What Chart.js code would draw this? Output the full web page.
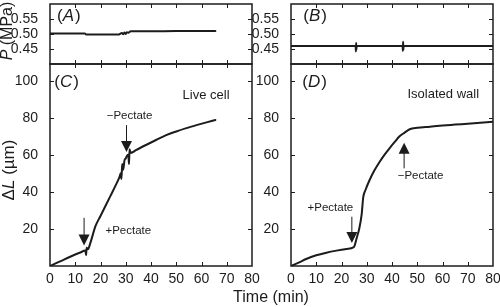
<!DOCTYPE html>
<html>
<head>
<meta charset="utf-8">
<script src="https://cdn.jsdelivr.net/npm/chart.js@4.4.1/dist/chart.umd.min.js"></script>
<style>
  html, body { margin: 0; padding: 0; background: #fff; }
  #wrap { position: relative; width: 500px; height: 307px; overflow: hidden;
          font-family: "Liberation Sans", Arial, Helvetica, sans-serif; color: #1c1c1c; }
  canvas { position: absolute; left: 0; top: 0; }
  .title { position: absolute; white-space: nowrap; transform: translate(-50%, -50%); line-height: 1; }
  .rot { transform: translate(-50%, -50%) rotate(-90deg); }
</style>
</head>
<body>
<div id="wrap">
  <canvas id="pa" width="500" height="307"></canvas>
  <canvas id="pb" width="500" height="307"></canvas>
  <canvas id="pc" width="500" height="307"></canvas>
  <canvas id="pd" width="500" height="307"></canvas>
  <div class="title rot" style="left:7px; top:31px; font-size:16px;"><i>P</i> (MPa)</div>
  <div class="title rot" style="left:8px; top:170px; font-size:17px;">&Delta;<i>L</i> (&micro;m)</div>
  <div class="title" style="left:271px; top:297px; font-size:16px;">Time (min)</div>
</div>
<script>
const ink = '#1c1c1c';
const family = '"Liberation Sans", Arial, Helvetica, sans-serif';

// axis ticks
const timeTicks = [0, 10, 20, 30, 40, 50, 60, 70, 80];
const pressureTicks = [0.45, 0.50, 0.55];
const growthTicks = [20, 40, 60, 80, 100];

// (A) live cell, turgor pressure
const timeA = [0, 5, 10, 13.8, 14.3, 20, 27, 28.5, 29, 29.5, 30, 30.5, 31, 32, 40, 50, 60, 65.5];
const pressureA = [0.502, 0.502, 0.502, 0.502, 0.498, 0.498, 0.498, 0.503, 0.499, 0.505, 0.500, 0.506, 0.504, 0.509, 0.509, 0.510, 0.510, 0.510];

// (B) isolated wall, pressure
const timeB = [0, 25.6, 25.7, 25.8, 25.9, 26, 44.2, 44.3, 44.4, 44.5, 44.6, 80];
const pressureB = [0.460, 0.460, 0.442, 0.470, 0.448, 0.460, 0.460, 0.444, 0.474, 0.447, 0.460, 0.460];

// (C) live cell, elongation
const timeC = [0, 4, 8, 12, 14, 14.3, 14.5, 15, 16, 18, 20, 22, 24, 26, 27.5, 28, 28.3, 28.6, 29, 29.5, 30, 30.5, 31, 31.3, 31.5, 32, 34, 38, 42, 46, 50, 54, 58, 62, 65.5];
const growthC = [0, 2.5, 5, 7.3, 8.3, 5.8, 9.8, 9, 12.5, 21.5, 27, 32.5, 38, 43.5, 48, 50, 47, 55, 52, 57, 58, 59.5, 60, 55, 63, 61, 62.5, 65.3, 68, 70.6, 72.6, 74.4, 76, 77.5, 78.8];

// (D) isolated wall, elongation
const timeD = [0, 3, 6, 10, 14, 18, 22, 24.7, 25.2, 26, 27, 28, 28.6, 29.5, 31, 33, 35, 37, 39, 41, 43, 45, 47, 50, 55, 60, 65, 70, 75, 80];
const growthD = [0, 1.8, 3.8, 5.8, 7.2, 8.3, 9.2, 10, 11, 15, 20, 28, 37, 41, 46, 51.5, 56, 60, 63.5, 66.8, 70, 72, 73.8, 74.6, 75.2, 75.8, 76.3, 76.8, 77.3, 77.8];

// pectate additions: time, stem start, arrow tip (in µm)
const arrowsC = [[13.5, 26, 11], [30.3, 76, 61.5]];
const arrowsD = [[24.1, 26.6, 12.4], [44.8, 52.7, 66.5]];

// small notes: text, time, value
const notesC = [['\u2212Pectate', 31.5, 81], ['+Pectate', 31, 19]];
const notesD = [['+Pectate', 15.6, 31.3], ['\u2212Pectate', 51.3, 48.7]];

function extras(cfg) {
  return {
    id: 'extras',
    afterDraw(chart) {
      const { ctx, chartArea: a, scales: { x, y } } = chart;
      ctx.save();
      ctx.strokeStyle = ink;
      ctx.fillStyle = ink;

      // inward tick marks on all four sides
      ctx.lineWidth = 1;
      ctx.beginPath();
      x.ticks.forEach(t => {
        if (t.value <= x.min || t.value >= x.max) return;
        const px = Math.round(x.getPixelForValue(t.value)) + 0.5;
        ctx.moveTo(px, a.bottom); ctx.lineTo(px, a.bottom - 4);
        ctx.moveTo(px, a.top); ctx.lineTo(px, a.top + 4);
      });
      y.ticks.forEach(t => {
        const py = Math.round(y.getPixelForValue(t.value)) + 0.5;
        ctx.moveTo(a.left, py); ctx.lineTo(a.left + 4, py);
        ctx.moveTo(a.right, py); ctx.lineTo(a.right - 4, py);
      });
      ctx.stroke();
      ctx.lineWidth = 1.5;
      ctx.strokeRect(a.left, a.top, a.width, a.height);

      // arrows
      (cfg.arrows || []).forEach(([t, from, tip]) => {
        const px = x.getPixelForValue(t);
        const y0 = y.getPixelForValue(from);
        const y1 = y.getPixelForValue(tip);
        const dir = y1 > y0 ? 1 : -1;
        ctx.lineWidth = 1;
        ctx.beginPath();
        ctx.moveTo(px, y0); ctx.lineTo(px, y1 - dir * 9);
        ctx.stroke();
        ctx.beginPath();
        ctx.moveTo(px, y1);
        ctx.lineTo(px - 5.5, y1 - dir * 11);
        ctx.lineTo(px + 5.5, y1 - dir * 11);
        ctx.closePath();
        ctx.fill();
      });

      ctx.textBaseline = 'middle';
      ctx.textAlign = 'center';
      ctx.font = '11.5px ' + family;
      (cfg.notes || []).forEach(([txt, t, v]) => {
        ctx.fillText(txt, x.getPixelForValue(t), y.getPixelForValue(v));
      });
      if (cfg.caption) {
        ctx.font = '13px ' + family;
        ctx.fillText(cfg.caption[0], x.getPixelForValue(cfg.caption[1]), y.getPixelForValue(cfg.caption[2]));
      }

      // panel letter, e.g. (A)
      const [letter, lt, lv] = cfg.letter;
      let lx = x.getPixelForValue(lt);
      const ly = y.getPixelForValue(lv);
      ctx.textAlign = 'left';
      const parts = [['(', ''], [letter, 'italic '], [')', '']];
      parts.forEach(([s, st]) => {
        ctx.font = st + '17px ' + family;
        ctx.fillText(s, lx, ly);
        lx += ctx.measureText(s).width + (st ? 1 : 0);
      });
      ctx.restore();
    }
  };
}

function makePanel(cfg) {
  const [left, top, right, bottom] = cfg.area;
  const xH = cfg.timeLabels ? 22 : 0;
  return new Chart(document.getElementById(cfg.id), {
    type: 'line',
    data: {
      datasets: [{
        data: cfg.times.map((t, i) => ({ x: t, y: cfg.values[i] })),
        borderColor: ink,
        borderWidth: 2,
        pointRadius: 0,
        cubicInterpolationMode: 'monotone',
        borderCapStyle: 'round',
        fill: false
      }]
    },
    options: {
      responsive: false,
      animation: false,
      devicePixelRatio: 1,
      layout: { padding: { left: left - 50, top: top, right: 500 - right, bottom: 307 - bottom - xH } },
      plugins: { legend: { display: false }, tooltip: { enabled: false } },
      scales: {
        x: {
          type: 'linear', min: 0, max: 80,
          afterBuildTicks: s => { s.ticks = timeTicks.map(v => ({ value: v })); },
          afterFit: s => { s.height = xH; s.paddingLeft = 0; s.paddingRight = 0; },
          ticks: { display: cfg.timeLabels, color: ink, font: { family, size: 14 }, padding: -3, maxRotation: 0, autoSkip: false },
          grid: { display: false },
          border: { display: false }
        },
        y: {
          type: 'linear', min: cfg.yMin, max: cfg.yMax,
          afterBuildTicks: s => { s.ticks = cfg.yTicks.map(v => ({ value: v })); },
          afterFit: s => { s.width = 50; s.paddingTop = 0; s.paddingBottom = 0; },
          ticks: { color: ink, font: { family, size: 14 }, padding: 4, callback: cfg.fmt },
          grid: { display: false },
          border: { display: false }
        }
      }
    },
    plugins: [extras(cfg)]
  });
}

const fmtP = v => v.toFixed(2);
const fmtL = v => String(v);

makePanel({ id: 'pa', area: [50, 4, 252, 64], timeLabels: false, yMin: 0.4, yMax: 0.6, yTicks: pressureTicks, fmt: fmtP,
  times: timeA, values: pressureA, letter: ['A', 2.8, 0.558] });
makePanel({ id: 'pb', area: [291, 4, 493, 64], timeLabels: false, yMin: 0.4, yMax: 0.6, yTicks: pressureTicks, fmt: fmtP,
  times: timeB, values: pressureB, letter: ['B', 4.9, 0.558] });
makePanel({ id: 'pc', area: [50, 64, 252, 266], timeLabels: true, yMin: 0, yMax: 109, yTicks: growthTicks, fmt: fmtL,
  times: timeC, values: growthC, letter: ['C', 1.7, 99], arrows: arrowsC, notes: notesC, caption: ['Live cell', 61.8, 92.3] });
makePanel({ id: 'pd', area: [291, 64, 493, 266], timeLabels: true, yMin: 0, yMax: 109, yTicks: growthTicks, fmt: fmtL,
  times: timeD, values: growthD, letter: ['D', 4.5, 99], arrows: arrowsD, notes: notesD, caption: ['Isolated wall', 60.3, 92.8] });
</script>
</body>
</html>
